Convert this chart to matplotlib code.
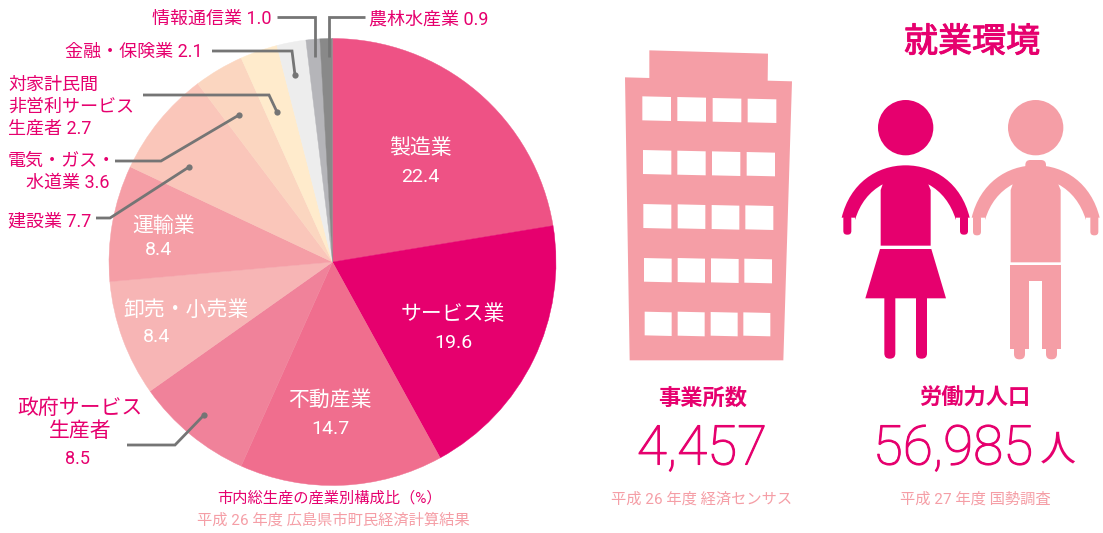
import matplotlib
matplotlib.use("Agg")
import matplotlib.pyplot as plt
import matplotlib.patheffects as pe
from matplotlib.path import Path
from matplotlib.patches import PathPatch, Polygon, Circle, FancyBboxPatch

FONTS = ['Roboto', 'Noto Sans CJK JP', 'DejaVu Sans']
plt.rcParams['font.family'] = FONTS

sectors = ['製造業', 'サービス業', '不動産業', '政府サービス生産者', '卸売・小売業', '運輸業',
           '建設業', '電気・ガス・水道業', '対家計民間非営利サービス生産者', '金融・保険業',
           '情報通信業', '農林水産業']
shares = [22.4, 19.6, 14.7, 8.5, 8.4, 8.4, 7.7, 3.6, 2.7, 2.1, 1.0, 0.9]
colors = ['#EE5285', '#E6006E', '#F06E8E', '#F0829A', '#F7B5B5', '#F59EA6',
          '#FAC6BA', '#FBD6C0', '#FFEBCC', '#EDEDED', '#B5B5B9', '#898989']
establishments = '4,457'
labour_force = '56,985'

MAG = '#E6006E'
PINK = '#F59EA6'
GREY = '#757575'
W, H = 1103, 533

fig = plt.figure(figsize=(W / 100, H / 100), dpi=100, facecolor='white')

# pie axes
cx, cy, r = 332.5, 262, 223.5
axp = fig.add_axes([(cx - r) / W, 1 - (cy + r) / H, 2 * r / W, 2 * r / H])
wedges, _ = axp.pie(shares, colors=colors, startangle=90, counterclock=False, radius=1)
for w in wedges:
    w.set_edgecolor(w.get_facecolor())
    w.set_linewidth(0.3)
axp.set_xlim(-1, 1)
axp.set_ylim(-1, 1)
axp.axis('off')

# overlay in pixel coordinates
ax = fig.add_axes([0, 0, 1, 1], facecolor='none')
ax.set_xlim(0, W)
ax.set_ylim(H, 0)
ax.axis('off')


def T(x, y, s, size=13, color=MAG, ha='center', weight='normal', **kw):
    return ax.text(x, y + 2, s, fontsize=size, color=color, ha=ha, va='center', weight=weight, **kw)


# white labels inside
T(420, 146, sectors[0], 15, 'white')
T(420, 175, str(shares[0]), 14, 'white')
T(453, 312, sectors[1], 15, 'white')
T(453, 341, str(shares[1]), 14, 'white')
T(330, 398, sectors[2], 15, 'white')
T(330, 427, str(shares[2]), 14, 'white')
T(186, 308, sectors[4], 15, 'white')
T(156, 335, str(shares[4]), 14, 'white')
T(164, 224, sectors[5], 15, 'white')
T(158, 248, str(shares[5]), 14, 'white')

# outside labels
T(272, 17, f'{sectors[10]} {shares[10]}', 13, ha='right')
T(369, 17, f'{sectors[11]} {shares[11]}', 13, ha='left')
T(203, 50, f'{sectors[9]} {shares[9]}', 13, ha='right')
T(8, 83, '対家計民間', 13, ha='left')
T(8, 105, '非営利サービス', 13, ha='left')
T(8, 127, f'生産者 {shares[8]}', 13, ha='left')
T(8, 159, '電気・ガス・', 13, ha='left')
T(109, 181, f'水道業 {shares[7]}', 13, ha='right')
T(8, 219, f'{sectors[6]} {shares[6]}', 13, ha='left')
T(80, 406, '政府サービス', 15)
T(80, 429, '生産者', 15)
T(77, 457, str(shares[3]), 13)

# leader lines
leaders = [
    ([277, 315, 315], [17, 17, 57], False),
    ([365, 329, 329], [17, 17, 57], False),
    ([212, 292, 295], [51, 51, 75], True),
    ([143, 269, 277], [95, 95, 112], True),
    ([115, 161, 239], [161, 161, 115], True),
    ([96, 110, 189], [218, 218, 167], True),
    ([127, 175, 204], [445, 445, 415], True),
]
for xs, ys, dot in leaders:
    ax.plot(xs, ys, color=GREY, lw=2.0, solid_capstyle='butt', solid_joinstyle='miter', zorder=5)
    if dot:
        ax.plot(xs[-1], ys[-1], 'o', color=GREY, ms=4.5, mew=0, zorder=5)

# footers
T(330, 496, '市内総生産の産業別構成比（%）', 11)
T(333, 518, '平成 26 年度 広島県市町民経済計算結果', 11, PINK)
T(702, 497, '平成 26 年度 経済センサス', 11, PINK)
T(975, 497, '平成 27 年度 国勢調査', 11, PINK)

# headline figures
title = T(972, 41, '就業環境', 24.5)
title.set_path_effects([pe.withStroke(linewidth=0.7, foreground=MAG)])
T(703, 397, '事業所数', 16, weight='bold')
T(975, 397, '労働力人口', 16, weight='bold')
for x, s in ((702, establishments), (953, labour_force)):
    big = T(x, 447, s, 39.5, weight='light')
    big.set_path_effects([pe.withStroke(linewidth=0.8, foreground=MAG)])
T(1058, 448, '人', 26)


# illustrations: building
def bz(x, y):
    return (620 + x / 3, 40 + y / 3)


ax.add_patch(Polygon([bz(15, 112), bz(88, 114), bz(88, 31), bz(444, 41), bz(443, 122), bz(516, 124),
                      bz(490, 961), bz(29, 961)], closed=True, fc=PINK, ec='none'))
win_rows = [
    [(67, 153, 169, 241), (172, 258, 171, 243), (278, 364, 174, 245), (383, 469, 176, 247)],
    [(69, 154, 330, 402), (172, 257, 332, 404), (276, 361, 334, 406), (380, 465, 336, 407)],
    [(70, 154, 492, 564), (173, 256, 493, 565), (275, 358, 495, 567), (376, 460, 496, 568)],
    [(72, 155, 654, 725), (173, 255, 654, 726), (273, 356, 655, 727), (373, 456, 656, 728)],
    [(74, 155, 815, 886), (173, 254, 815, 887), (272, 353, 816, 887), (370, 451, 817, 887)],
]
for row in win_rows:
    for x0, x1, y0, y1 in row:
        ax.add_patch(Polygon([bz(x0, y0), bz(x1, y0 + 2), bz(x1, y1 + 2), bz(x0, y1)],
                             closed=True, fc='white', ec='none'))


# illustrations: people
def pz(x, y):
    return (830 + x / 3, 90 + y / 3)


def curve(points, codes, color):
    verts = [pz(*p) for p in points]
    ax.add_patch(PathPatch(Path(verts, codes), fc=color, ec='none'))


def rrect(x0, y0, x1, y1, color, rad=11):
    a = pz(x0, y0)
    b = pz(x1, y1)
    ax.add_patch(FancyBboxPatch((a[0] + rad / 3, a[1] + rad / 3), b[0] - a[0] - 2 * rad / 3,
                                b[1] - a[1] - 2 * rad / 3,
                                boxstyle=f'round,pad={rad / 3},rounding_size={rad / 3}',
                                fc=color, ec='none'))


M, L, C4, C = Path.MOVETO, Path.LINETO, Path.CURVE4, Path.CLOSEPOLY


def torso(dx, bottom, color):
    pts = [(35 + dx, 383), (60 + dx, 280), (140 + dx, 226), (227 + dx, 226),
           (314 + dx, 226), (394 + dx, 280), (419 + dx, 383),
           (378 + dx, 383), (378 + dx, 390),
           (362 + dx, 340), (335 + dx, 305), (295 + dx, 283),
           (302 + dx, 300), (302 + dx, bottom), (152 + dx, bottom), (152 + dx, 300),
           (158 + dx, 283),
           (118 + dx, 305), (90 + dx, 340), (75 + dx, 390),
           (75 + dx, 383), (35 + dx, 383)]
    codes = [M, C4, C4, C4, C4, C4, C4, L, L, C4, C4, C4, L, L, L, L, L, C4, C4, C4, L, C]
    curve(pts, codes, color)


# woman
ax.add_patch(Circle(pz(227, 113), 83 / 3, fc=MAG, ec='none'))
torso(0, 467, MAG)
rrect(40, 375, 64, 434, MAG)
rrect(390, 375, 414, 434, MAG)
ax.add_patch(Polygon([pz(150, 477), pz(304, 477), pz(348, 625), pz(106, 625)], closed=True, fc=MAG, ec='none'))
rrect(163, 610, 196, 806, MAG, 16)
rrect(258, 610, 291, 806, MAG, 16)

# man
ax.add_patch(Circle(pz(617, 113), 83 / 3, fc=PINK, ec='none'))
torso(390, 517, PINK)
rrect(586, 210, 648, 250, PINK, 15)
rrect(429, 375, 453, 436, PINK)
rrect(781, 375, 805, 436, PINK)
ax.add_patch(Polygon([pz(541, 525), pz(692, 525), pz(692, 776), pz(636, 776), pz(636, 574),
                      pz(597, 574), pz(597, 776), pz(541, 776)], closed=True, fc=PINK, ec='none'))
rrect(552, 760, 585, 808, PINK, 16)
rrect(648, 760, 681, 808, PINK, 16)

fig.savefig('out.png', dpi=100, facecolor='white')
